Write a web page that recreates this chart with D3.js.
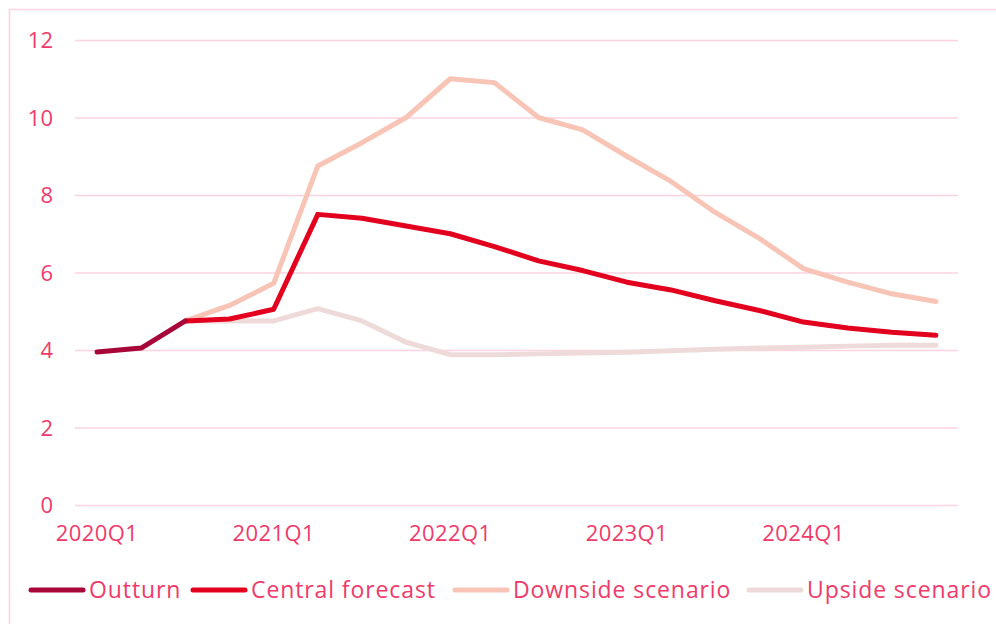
<!DOCTYPE html>
<html><head><meta charset="utf-8">
<script src="https://cdn.jsdelivr.net/npm/d3@7"></script>
<style>body{margin:0;background:#fff}svg{display:block}text{font-family:"Open Sans","Lato",sans-serif}</style>
</head><body><svg id="c" width="996" height="624"></svg>
<script>
const quarters = ["2020Q1","2020Q2","2020Q3","2020Q4","2021Q1","2021Q2","2021Q3","2021Q4","2022Q1","2022Q2","2022Q3","2022Q4","2023Q1","2023Q2","2023Q3","2023Q4","2024Q1","2024Q2","2024Q3","2024Q4"];
const tickLabels = ["2020Q1","2021Q1","2022Q1","2023Q1","2024Q1"];
const yTicks = [0,2,4,6,8,10,12];
const outturn = [3.95,4.05,4.75,null,null,null,null,null,null,null,null,null,null,null,null,null,null,null,null,null];
const central = [null,null,4.75,4.8,5.05,7.5,7.4,7.2,7.0,6.67,6.3,6.05,5.75,5.55,5.27,5.02,4.72,4.57,4.46,4.38];
const downside = [null,null,4.75,5.15,5.72,8.75,9.35,10.0,11.0,10.9,10.0,9.68,9.0,8.35,7.55,6.88,6.1,5.75,5.45,5.25];
const upside = [null,null,4.75,4.75,4.75,5.07,4.75,4.2,3.88,3.88,3.9,3.92,3.94,3.98,4.02,4.05,4.07,4.1,4.12,4.12];
const seriesNames = ["Outturn","Central forecast","Downside scenario","Upside scenario"];
const seriesColors = ["#a8073a","#e3001f","#f8c4b5","#eedbd9"];
const seriesData = [outturn,central,downside,upside];

const svg = d3.select("#c");
const textColor = "#f03a6a", gridColor = "#fcd3e0";
svg.append("rect").attr("x",9.5).attr("y",9.5).attr("width",1000).attr("height",700)
  .attr("fill","none").attr("stroke",gridColor).attr("stroke-width",1.5);

const x = d3.scaleBand().domain(quarters).range([75,958]);
const y = d3.scaleLinear().domain([0,12]).range([505,40]);

const yAxis = svg.append("g").attr("transform","translate(75,0)")
  .call(d3.axisLeft(y).tickValues(yTicks).tickSize(-883).tickPadding(22));
yAxis.select(".domain").remove();
yAxis.selectAll("line").attr("stroke",gridColor).attr("stroke-width",1.5);
yAxis.selectAll("text").attr("fill",textColor).attr("font-size",22).attr("dy","0.35em");

const xAxis = svg.append("g").attr("transform","translate(0,505)")
  .call(d3.axisBottom(x).tickValues(tickLabels).tickSize(0).tickPadding(20));
xAxis.select(".domain").remove();
xAxis.selectAll("text").attr("fill",textColor).attr("font-size",22).attr("letter-spacing",0.4);

const line = d3.line().defined(d=>d.v!=null).x(d=>x(d.q)+x.bandwidth()/2).y(d=>y(d.v));
const order = [3,2,1,0];
order.forEach(i=>{
  svg.append("path").datum(quarters.map((q,j)=>({q,v:seriesData[i][j]})))
    .attr("d",line).attr("fill","none").attr("stroke",seriesColors[i])
    .attr("stroke-width",5).attr("stroke-linejoin","round").attr("stroke-linecap","round");
});

const legendX = [31,193,455,749];
const lg = svg.append("g");
seriesNames.forEach((n,i)=>{
  const g = lg.append("g").attr("transform",`translate(${legendX[i]},590)`);
  g.append("line").attr("x1",0).attr("x2",52).attr("stroke",seriesColors[i]).attr("stroke-width",5).attr("stroke-linecap","round");
  g.append("text").attr("x",58).attr("dy","0.35em").attr("fill",textColor).attr("font-size",23).attr("letter-spacing",0.9).text(n);
});
</script></body></html>
